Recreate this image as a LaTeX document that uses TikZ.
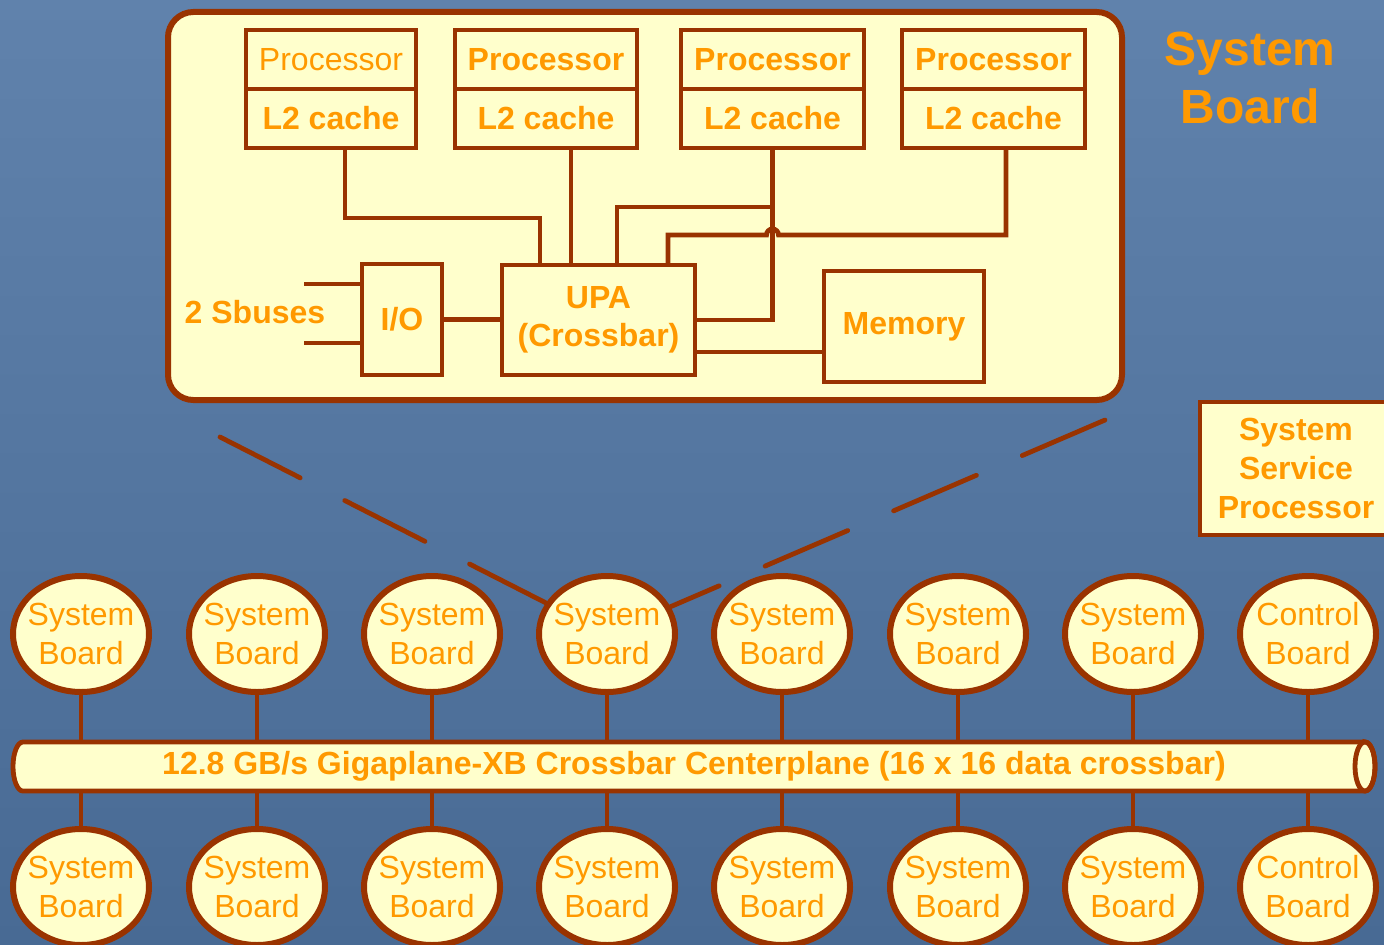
\documentclass[tikz,border=0pt]{standalone}
\usepackage{fontspec}
\setmainfont{Liberation Sans}
\usetikzlibrary{shapes.geometric,calc}
\definecolor{bgtop}{RGB}{96,130,172}
\definecolor{bgbottom}{RGB}{72,106,148}
\definecolor{paper}{RGB}{255,255,204}
\definecolor{rust}{RGB}{153,51,0}
\definecolor{amber}{RGB}{255,153,0}
\tikzset{
  unit/.style={draw=rust, fill=paper, line width=3.6pt, text=amber, align=center,
    font=\bfseries\fontsize{24}{28.5}\selectfont, inner sep=0pt, outer sep=0pt},
  wire/.style={draw=rust, line width=3.6pt},
  sboard/.style={ellipse, draw=rust, fill=paper, line width=4.5pt, text=amber, align=center,
    font=\fontsize{24}{29.25}\selectfont, inner xsep=-5pt, inner ysep=0pt,
    minimum width=102pt, minimum height=87pt},
  tag/.style={text=amber, align=center, font=\bfseries\fontsize{24}{28.5}\selectfont}
}

\begin{document}
\begin{tikzpicture}[x=0.75pt,y=-0.75pt]
\clip (0,0) rectangle (1384,945);
\shade[top color=bgtop, bottom color=bgbottom] (0,0) rectangle (1384,945);

% the system board
\node[unit, line width=4.5pt, rounded corners=19pt, minimum width=715.5pt, minimum height=291pt] (board) at (645,206) {};
\node[unit, font=\fontsize{24}{28.5}\selectfont, minimum width=127.5pt, minimum height=44.25pt] (p1) at (331,59.5) {Processor};
\node[unit, minimum width=127.5pt, minimum height=44.25pt] (c1) at (331,118.5) {L2 cache};
\node[unit, minimum width=136.5pt, minimum height=44.25pt] (p2) at (546,59.5) {Processor};
\node[unit, minimum width=136.5pt, minimum height=44.25pt] (c2) at (546,118.5) {L2 cache};
\node[unit, minimum width=137.25pt, minimum height=44.25pt] (p3) at (772.5,59.5) {Processor};
\node[unit, minimum width=137.25pt, minimum height=44.25pt] (c3) at (772.5,118.5) {L2 cache};
\node[unit, minimum width=137.25pt, minimum height=44.25pt] (p4) at (993.5,59.5) {Processor};
\node[unit, minimum width=137.25pt, minimum height=44.25pt] (c4) at (993.5,118.5) {L2 cache};
\node[unit, minimum width=144.75pt, minimum height=82.5pt] (upa) at (598.5,320) {UPA\\(Crossbar)};
\node[unit, minimum width=120pt, minimum height=83.25pt] (mem) at (904,326.5) {Memory};
\node[unit, minimum width=60pt, minimum height=83.25pt] (io) at (402,319.5) {I/O};
\node[tag] (sbus) at (255,312) {2 Sbuses};

\draw[wire] ([xshift=10.5pt]c1.south) -- ++(0,70) -| ([xshift=-43.9pt]upa.north);
\draw[wire] ([xshift=18.75pt]c2.south) coordinate (c2w) -- (c2w |- upa.north);
\draw[wire] (c3.south) |- (upa.east);
\draw[wire] ([xshift=13.9pt]upa.north) |- ($(c3.south)+(0,59)$);
\draw[wire] ([xshift=9.4pt]c4.south) |- ($(c3.south)+(6,87)$)
  arc[start angle=0, end angle=180, radius=4.5pt] -| ([xshift=52.1pt]upa.north);
\draw[wire] ([yshift=-24pt]upa.east) coordinate (mw) -- (mw -| mem.west);
\draw[wire] (io.east) -- (io.east -| upa.west);
\draw[wire] ([yshift=26.6pt]io.west) -- ++(-58,0);
\draw[wire] ([yshift=-17.6pt]io.west) -- ++(-58,0);

\node[tag, font=\bfseries\fontsize{36}{43}\selectfont] (title) at (1250,78) {System\\Board};
\node[unit, font=\bfseries\fontsize{24}{29}\selectfont, minimum width=144pt, minimum height=99.75pt] (ssp) at (1296,468.5) {System\\Service\\Processor};

% centerplane and boards
\node[inner sep=0pt, outer sep=0pt, minimum width=1006.5pt, minimum height=36.75pt] (bar) at (694,766.5) {};
\foreach \x/\kind [count=\i] in {81/System,257/System,432/System,607/System,782/System,958/System,1133/System,1308/Control} {
  \draw[wire] (\x,634) -- (\x,887);
  \node[sboard] (t\i) at (\x,634) {\kind\\Board};
  \node[sboard] (b\i) at (\x,887) {\kind\\Board};
}
\filldraw[wire, fill=paper] (bar.north east) -- (bar.north west)
  arc[start angle=90, end angle=270, x radius=7.5pt, y radius=18.4pt] -- (bar.south east)
  arc[start angle=-90, end angle=90, x radius=7.5pt, y radius=18.4pt] -- cycle;
\draw[wire] (bar.east) ellipse[x radius=7.5pt, y radius=18.4pt];
\node[tag] at (bar.center) {12.8 GB/s Gigaplane-XB Crossbar Centerplane (16 x 16 data crossbar)};

\coordinate (lfoot) at ($(board.south west)+(52,37)$);
\coordinate (rfoot) at ($(board.south east)+(-17,20)$);
\draw[wire, line cap=round, dash pattern=on 67.5pt off 37.5pt] (lfoot) -- (t4);
\draw[wire, line cap=round, dash pattern=on 67.5pt off 37.5pt] (rfoot) -- (t4);
\end{tikzpicture}
\end{document}
